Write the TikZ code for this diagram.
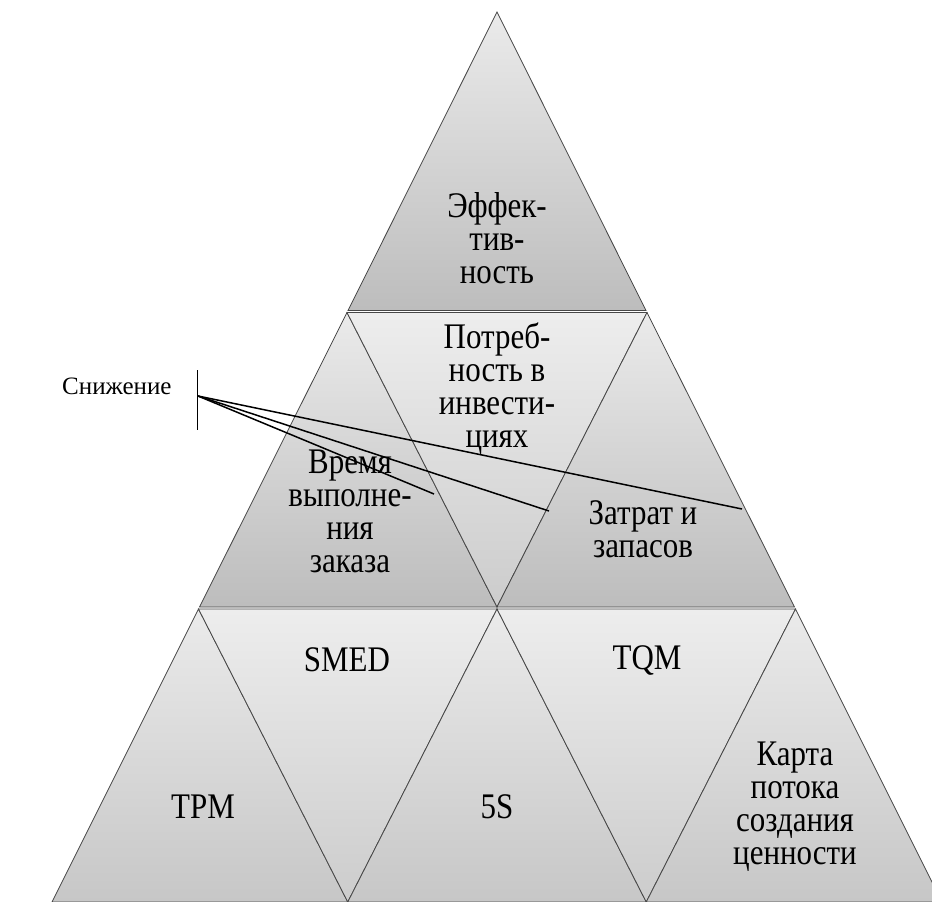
\documentclass[tikz,border=0pt]{standalone}
\usepackage{fontspec}
\setmainfont{Liberation Serif}
\usetikzlibrary{calc}
\tikzset{
  piece/.style={draw=black!72, line width=0.8pt, line join=miter,
    top color=black!8, bottom color=black!26},
  pieceinv/.style={draw=black!72, line width=0.8pt, line join=miter,
    top color=black!7, bottom color=black!20},
  lbl/.style={font=\fontsize{36}{33}\selectfont, align=center,
    inner sep=0pt, xscale=0.86, transform shape},
  cut/.style={line width=1.5pt, black},
}
\begin{document}
\begin{tikzpicture}[x=1pt,y=-1pt]
\useasboundingbox (0,0) rectangle (932,902);

% ---- top tier ----
\path[piece] (497,12) -- (646,310.5) -- (348,310.5) -- cycle;

% ---- middle tier ----
\path[piece]    (347,312.5) -- (497,607) -- (199.5,607) -- cycle;
\path[pieceinv] (347,312.5) -- (647,312.5) -- (497,607) -- cycle;
\path[piece]    (647,312.5) -- (794.5,607) -- (497,607) -- cycle;

% ---- bottom tier ----
\path[piece, bottom color=black!22] (198.5,609) -- (347.75,902) -- (52,902) -- cycle;
\path[pieceinv] (198.5,609) -- (497,609) -- (347.75,902) -- cycle;
\path[piece, bottom color=black!22] (497,609) -- (646.25,902) -- (347.75,902) -- cycle;
\path[pieceinv] (497,609) -- (795.5,609) -- (646.25,902) -- cycle;
\path[piece, bottom color=black!22] (795.5,609) -- (942,902) -- (646.25,902) -- cycle;

% ---- labels ----
\node[lbl] (eff)   at (497,238) {Эффек-\\тив-\\ность};
\node[lbl] (inv)   at (497,389) {Потреб-\\ность в\\инвести-\\циях};
\node[lbl] (time)  at (350,511) {Время\\выполне-\\ния\\заказа};
\node[lbl] (cost)  at (643,529) {Затрат и\\запасов};
\node[lbl] (smed)  at (347,660) {SMED};
\node[lbl] (tqm)   at (647,660) {TQM};
\node[lbl] (tpm)   at (203,807) {TPM};
\node[lbl] (fives) at (497,807) {5S};
\node[lbl] (vsm)   at (795,807) {Карта\\потока\\создания\\ценности};

% ---- "reduction" callout ----
\node[font=\fontsize{25}{28}\selectfont, anchor=west, inner sep=0pt] (red) at (62,386) {Снижение};
\coordinate (barT) at (197.5,370);
\coordinate (barB) at (197.5,430);
\coordinate (hub) at (198,396);
\coordinate (toTime) at (434,494);
\coordinate (toInv) at (549,511);
\coordinate (toCost) at (742,509);
\draw[cut] (barT) -- (barB);
\draw[cut] (hub) -- (toTime);
\draw[cut] (hub) -- (toInv);
\draw[cut] (hub) -- (toCost);
\end{tikzpicture}
\end{document}
